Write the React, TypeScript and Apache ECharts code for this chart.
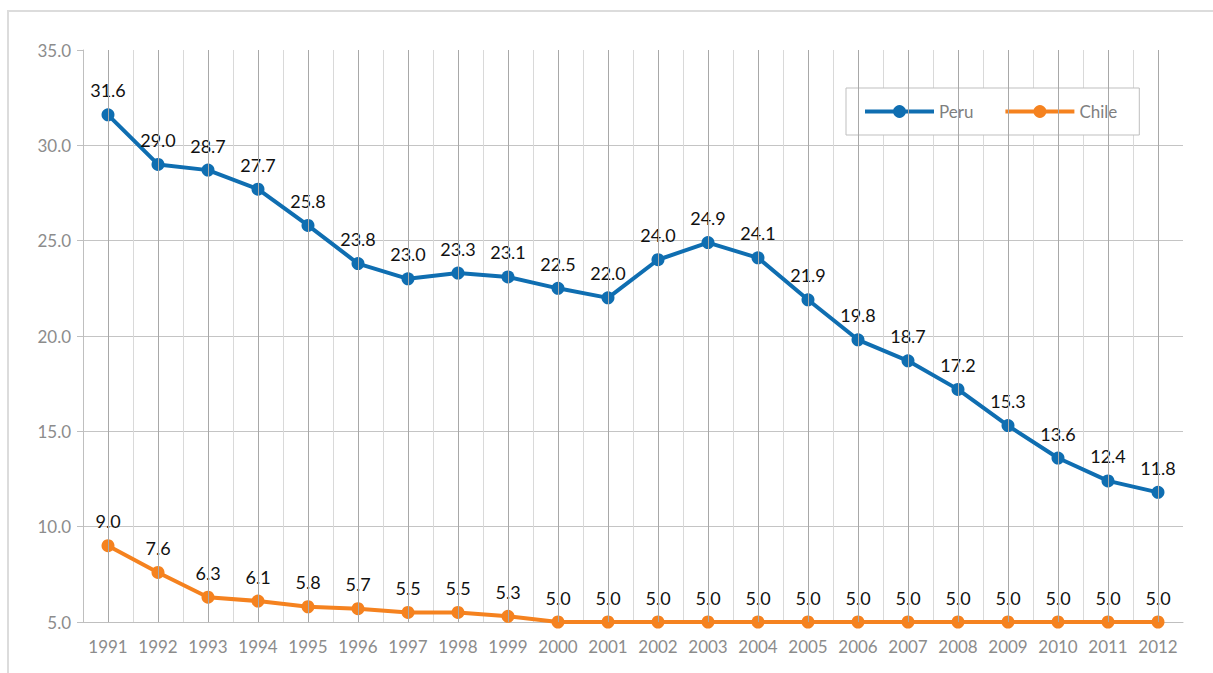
import React, { useEffect, useRef } from "react";
import * as echarts from "echarts";

const years = [
  "1991", "1992", "1993", "1994", "1995", "1996", "1997", "1998", "1999", "2000", "2001",
  "2002", "2003", "2004", "2005", "2006", "2007", "2008", "2009", "2010", "2011", "2012",
];
const peru = [
  31.6, 29.0, 28.7, 27.7, 25.8, 23.8, 23.0, 23.3, 23.1, 22.5, 22.0,
  24.0, 24.9, 24.1, 21.9, 19.8, 18.7, 17.2, 15.3, 13.6, 12.4, 11.8,
];
const chile = [
  9.0, 7.6, 6.3, 6.1, 5.8, 5.7, 5.5, 5.5, 5.3, 5.0, 5.0,
  5.0, 5.0, 5.0, 5.0, 5.0, 5.0, 5.0, 5.0, 5.0, 5.0, 5.0,
];
const seriesNames = ["Peru", "Chile"];

const BLUE = "#0F6EB1";
const ORANGE = "#F5821F";
const FONT = "Lato";

export default function App() {
  const ref = useRef<HTMLDivElement>(null);
  useEffect(() => {
    if (!ref.current) return;
    const chart = echarts.init(ref.current, undefined, { renderer: "svg" });
    const label = {
      show: true,
      position: "top" as const,
      distance: 9,
      color: "#111",
      fontSize: 18,
      fontFamily: FONT,
      formatter: (p: any) => Number(p.value).toFixed(1),
    };
    chart.setOption({
      animation: false,
      backgroundColor: "#ffffff",
      textStyle: { fontFamily: FONT },
      graphic: [
        {
          type: "rect",
          shape: { x: 8, y: 11, width: 1300, height: 800 },
          style: { fill: "none", stroke: "#dcdcdc", lineWidth: 2 },
          silent: true,
          z: -10,
        },
      ],
      grid: { left: 83, top: 50, width: 1100, height: 572, containLabel: false },
      legend: {
        data: seriesNames,
        left: 846,
        top: 88,
        orient: "horizontal",
        backgroundColor: "#ffffff",
        borderColor: "#bfbfbf",
        borderWidth: 1,
        padding: [15, 22, 15, 17],
        itemWidth: 69,
        itemHeight: 16,
        itemGap: 30,
        lineStyle: { width: 4 },
        textStyle: { color: "#7f7f7f", fontSize: 17, fontFamily: FONT },
      },
      xAxis: {
        type: "category",
        data: years,
        boundaryGap: true,
        axisLine: { show: true, lineStyle: { color: "#bfbfbf", width: 1 } },
        axisTick: { show: false },
        axisLabel: { color: "#8c8c8c", fontSize: 17, fontFamily: FONT, margin: 16, interval: 0 },
        splitLine: {
          show: true,
          interval: 0,
          showMinLine: true,
          showMaxLine: false,
          lineStyle: { color: "#d9d9d9", width: 1 },
        },
      },
      yAxis: {
        type: "value",
        min: 5,
        max: 35,
        interval: 5,
        axisLine: { show: true, lineStyle: { color: "#bfbfbf", width: 1 } },
        axisTick: { show: true, length: 6, lineStyle: { color: "#bfbfbf" } },
        axisLabel: {
          color: "#8c8c8c",
          fontSize: 17,
          fontFamily: FONT,
          margin: 12,
          formatter: (v: number) => v.toFixed(1),
        },
        splitLine: {
          show: true,
          showMaxLine: false,
          lineStyle: { color: "#c4c4c4", width: 1 },
        },
      },
      series: [
        {
          name: "gridlines",
          type: "line",
          data: years.map(() => null),
          silent: true,
          z: 1,
          showSymbol: false,
          markLine: {
            silent: true,
            symbol: "none",
            animation: false,
            label: { show: false },
            lineStyle: { color: "#a8a8a8", width: 1, type: "solid" },
            data: years.map((y) => ({ xAxis: y })),
          },
        },
        {
          name: "Peru",
          type: "line",
          data: peru,
          z: 3,
          color: BLUE,
          symbol: "circle",
          symbolSize: 13,
          lineStyle: { color: BLUE, width: 4 },
          itemStyle: { color: BLUE },
          label,
        },
        {
          name: "Chile",
          type: "line",
          data: chile,
          z: 3,
          color: ORANGE,
          symbol: "circle",
          symbolSize: 13,
          lineStyle: { color: ORANGE, width: 4 },
          itemStyle: { color: ORANGE },
          label,
        },
      ],
    });
    return () => chart.dispose();
  }, []);
  return (
    <div
      ref={ref}
      style={{ position: "absolute", left: 0, top: 0, width: 1213, height: 673 }}
    />
  );
}
